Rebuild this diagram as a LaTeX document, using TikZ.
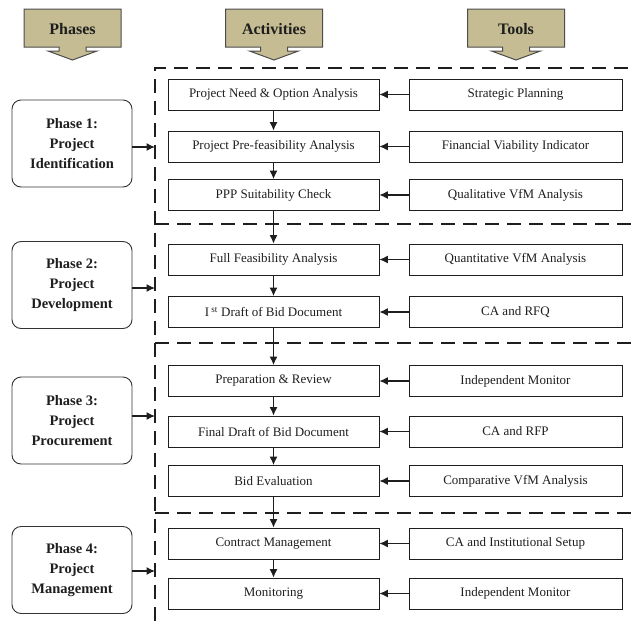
\documentclass[tikz,border=0pt]{standalone}
\usepackage{fontspec}
\setmainfont{Liberation Serif}
\usetikzlibrary{arrows.meta,calc}
\definecolor{hdrtan}{HTML}{C5BC93}
\definecolor{inkc}{HTML}{1E1E1E}
\newcommand\HdrShape[1]{%
  \draw[hdr] ({#1-48.5},9) -- ({#1+48.5},9) -- ({#1+48.5},47) -- ({#1+13.5},47) -- ({#1+13.5},51)
    -- ({#1+24.5},51) -- (#1,60) -- ({#1-24.5},51) -- ({#1-13.5},51) -- ({#1-13.5},47)
    -- ({#1-48.5},47) -- cycle;}
\begin{document}
\begin{tikzpicture}[x=1pt,y=-1pt,
  every node/.style={text=inkc},
  act/.style={draw=inkc, line width=0.8pt, minimum width=211pt, minimum height=31pt, inner sep=0pt,
    font=\fontsize{13}{15}\selectfont},
  tool/.style={act, minimum width=213pt},
  phase/.style={draw=black!80, rounded corners=9pt, line width=0.9pt, minimum width=120pt,
    minimum height=87pt, align=center, inner sep=0pt, font=\bfseries\fontsize{14.5}{20}\selectfont},
  hdrtext/.style={font=\bfseries\fontsize{16}{18}\selectfont, inner sep=0pt},
  hdr/.style={draw=black!70, fill=hdrtan, line width=1pt},
  arr/.style={-{Latex[length=8.5pt,width=8pt]}, line width=1.2pt, draw=inkc},
  dsh/.style={dash pattern=on 14pt off 8pt, line width=2pt, draw=inkc}]
\useasboundingbox (0,0) rectangle (633,625);

% headers
\HdrShape{72.5}
\HdrShape{274}
\HdrShape{516}
\node[hdrtext] (hP) at (72.5,29) {Phases};
\node[hdrtext] (hA) at (274,29) {Activities};
\node[hdrtext] (hT) at (516,29) {Tools};

% dashed frame
\draw[dsh] (155,621) -- (155,68) -- (633,68);
\draw[dsh] (155,224) -- (633,224);
\draw[dsh] (155,343) -- (633,343);
\draw[dsh] (155,513) -- (633,513);

% phases
\node[phase] (p1) at (72,143.5) {Phase 1:\\Project\\Identification};
\node[phase] (p2) at (72,285) {Phase 2:\\Project\\Development};
\node[phase] (p3) at (72,420.5) {Phase 3:\\Project\\Procurement};
\node[phase] (p4) at (72,570) {Phase 4:\\Project\\Management};
\coordinate (e1) at (155,147);
\coordinate (e2) at (155,288);
\coordinate (e3) at (155,416);
\coordinate (e4) at (155,571);
\draw[arr] (p1.east |- e1) -- (e1);
\draw[arr] (p2.east |- e2) -- (e2);
\draw[arr] (p3.east |- e3) -- (e3);
\draw[arr] (p4.east |- e4) -- (e4);

% activities
\node[act] (a1) at (273.5,94.5) {Project Need \& Option Analysis};
\node[act] (a2) at (273.5,146.5) {Project Pre-feasibility Analysis};
\node[act] (a3) at (273.5,195) {PPP Suitability Check};
\node[act] (a4) at (273.5,259.5) {Full Feasibility Analysis};
\node[act] (a5) at (273.5,312) {I\,\textsuperscript{st} Draft of Bid Document};
\node[act] (a6) at (273.5,381) {Preparation \& Review};
\node[act] (a7) at (273.5,431.5) {Final Draft of Bid Document};
\node[act] (a8) at (273.5,481) {Bid Evaluation};
\node[act] (a9) at (273.5,543.5) {Contract Management};
\node[act] (a10) at (273.5,593.5) {Monitoring};

% tools
\node[tool] (t1) at (515.5,94.5) {Strategic Planning};
\node[tool] (t2) at (515.5,146.5) {Financial Viability Indicator};
\node[tool] (t3) at (515.5,195) {Qualitative VfM Analysis};
\node[tool] (t4) at (515.5,259.5) {Quantitative VfM Analysis};
\node[tool] (t5) at (515.5,312) {CA and RFQ};
\node[tool] (t6) at (515.5,381) {Independent Monitor};
\node[tool] (t7) at (515.5,431.5) {CA and RFP};
\node[tool] (t8) at (515.5,481) {Comparative VfM Analysis};
\node[tool] (t9) at (515.5,543.5) {CA and Institutional Setup};
\node[tool] (t10) at (515.5,593.5) {Independent Monitor};

% connectors
\foreach \i in {1,...,10} {\draw[arr] (t\i.west) -- (a\i.east);}
\foreach \i/\j in {1/2,2/3,3/4,4/5,5/6,6/7,7/8,8/9,9/10} {\draw[arr] (a\i.south) -- (a\j.north);}
\end{tikzpicture}
\end{document}
